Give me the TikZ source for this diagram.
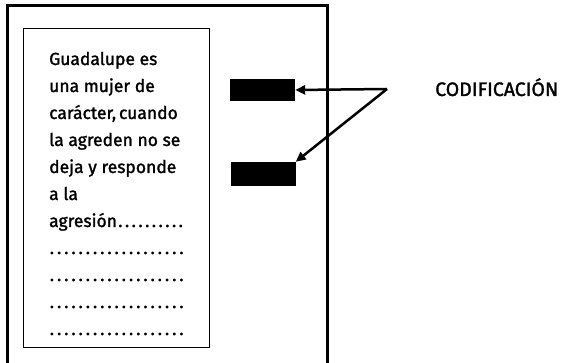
\documentclass[tikz,border=0pt]{standalone}
\usepackage{fontspec}
\setmainfont{Fira Sans}[BoldFont=Fira Sans,BoldFeatures={FakeBold=1.5}]
\usetikzlibrary{arrows.meta}
\newcommand\dotrow{\hbox to 137pt{\xleaders\hbox to 6.9pt{\hss.\hss}\hfill}}
\begin{document}
\begin{tikzpicture}[x=1pt,y=-1pt,txt/.style={anchor=base west,inner sep=0pt,font=\fontsize{17.5}{20}\selectfont\bfseries},blk/.style={fill=black,minimum width=65pt,minimum height=22pt,inner sep=0pt},arr/.style={line width=2.5pt,-{Triangle[length=10pt,width=9pt]}}]
\useasboundingbox(0,0)rectangle(567,363);
\draw[line width=3pt](7.5,372)--(7.5,5.5)--(327,5.5)--(327,372);
\draw[line width=.8pt](23,28)rectangle(209,347);
\node[txt](l1)at(49,65){Guadalupe es};\node[txt](l2)at(49,92){una mujer de};\node[txt](l3)at(49,119){carácter,\,cuando};\node[txt](l4)at(49,146){la agreden no se};
\node[txt](l5)at(49,173){deja y responde};\node[txt](l6)at(49,200){a la};\node[txt](l7)at(49,227){\hbox to 135pt{agresión\xleaders\hbox to 6.7pt{\hss.\hss}\hfill}};
\node[txt](d1)at(48,254){\dotrow};\node[txt](d2)at(48,281){\dotrow};\node[txt](d3)at(48,308){\dotrow};\node[txt](d4)at(48,335){\dotrow};
\node[blk](b1)at(262.5,90){};\node[blk,minimum height=24pt](b2)at(263,174){};
\node[txt,font=\fontsize{19.5}{20}\selectfont\bfseries](cod)at(435,96){CODIFICACIÓN};
\coordinate(v)at(387,89);
\draw[arr](v)--(b1.east);\draw[arr](v)--(b2.north east);
\end{tikzpicture}
\end{document}
